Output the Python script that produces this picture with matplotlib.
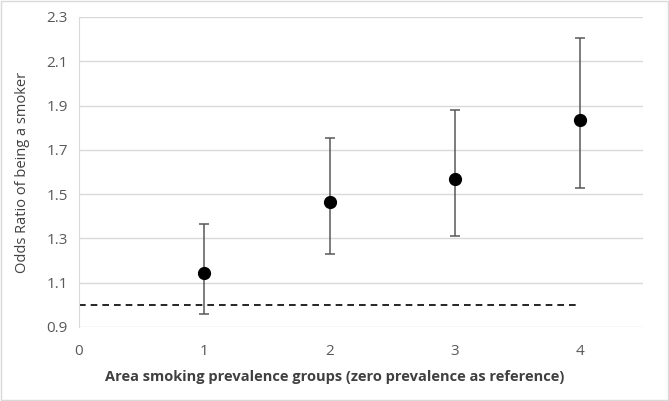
import numpy as np
from matplotlib import pyplot as plt
from matplotlib.patches import Rectangle

groups = [1, 2, 3, 4]
odds = [1.145, 1.465, 1.567, 1.835]
upper = [1.365, 1.752, 1.88, 2.205]
lower = [0.957, 1.228, 1.31, 1.527]
ref_x = [0, 4]
ref_y = [1.0, 1.0]

plt.rcParams["font.family"] = ["Open Sans", "DejaVu Sans"]

fig = plt.figure(figsize=(6.69, 4.01), dpi=100)
ax = fig.add_axes([79 / 669, 1 - 327 / 401, 564 / 669, 310 / 401])

odds = np.array(odds)
yerr = [odds - np.array(lower), np.array(upper) - odds]
ax.errorbar(groups, odds, yerr=yerr, fmt="o", color="black", markersize=8.5,
            ecolor="#595959", elinewidth=1.1, capsize=3.5, capthick=1.1, zorder=3)
ax.plot(ref_x, ref_y, linestyle=(0, (4, 3)), color="black", linewidth=1.2, zorder=2)

ax.set_xlim(0, 4.5)
ax.set_ylim(0.9, 2.3)
ax.set_xticks([0, 1, 2, 3, 4])
ax.set_yticks(np.arange(0.9, 2.31, 0.2))
ax.set_yticklabels([f"{v:.1f}" for v in np.arange(0.9, 2.31, 0.2)])
ax.grid(axis="y", color="#d9d9d9", linewidth=1)
ax.set_axisbelow(True)
for s in ["top", "right", "bottom"]:
    ax.spines[s].set_visible(False)
ax.spines["left"].set_color("#d9d9d9")
ax.tick_params(length=0, labelsize=11, colors="#595959", pad=8)
ax.tick_params(axis="x", pad=12)

ax.set_ylabel("Odds Ratio of being a smoker", fontsize=10.5, color="#404040", labelpad=12)
fig.text(0.5, 1 - 377 / 401, "Area smoking prevalence groups (zero prevalence as reference)",
         fontsize=10.5, fontweight="bold", color="#404040", ha="center", va="center")

fig.patches.append(Rectangle((0.002, 0.002), 0.996, 0.996, transform=fig.transFigure,
                             fill=False, edgecolor="#d9d9d9", linewidth=1))

fig.savefig("out.png", dpi=100)
